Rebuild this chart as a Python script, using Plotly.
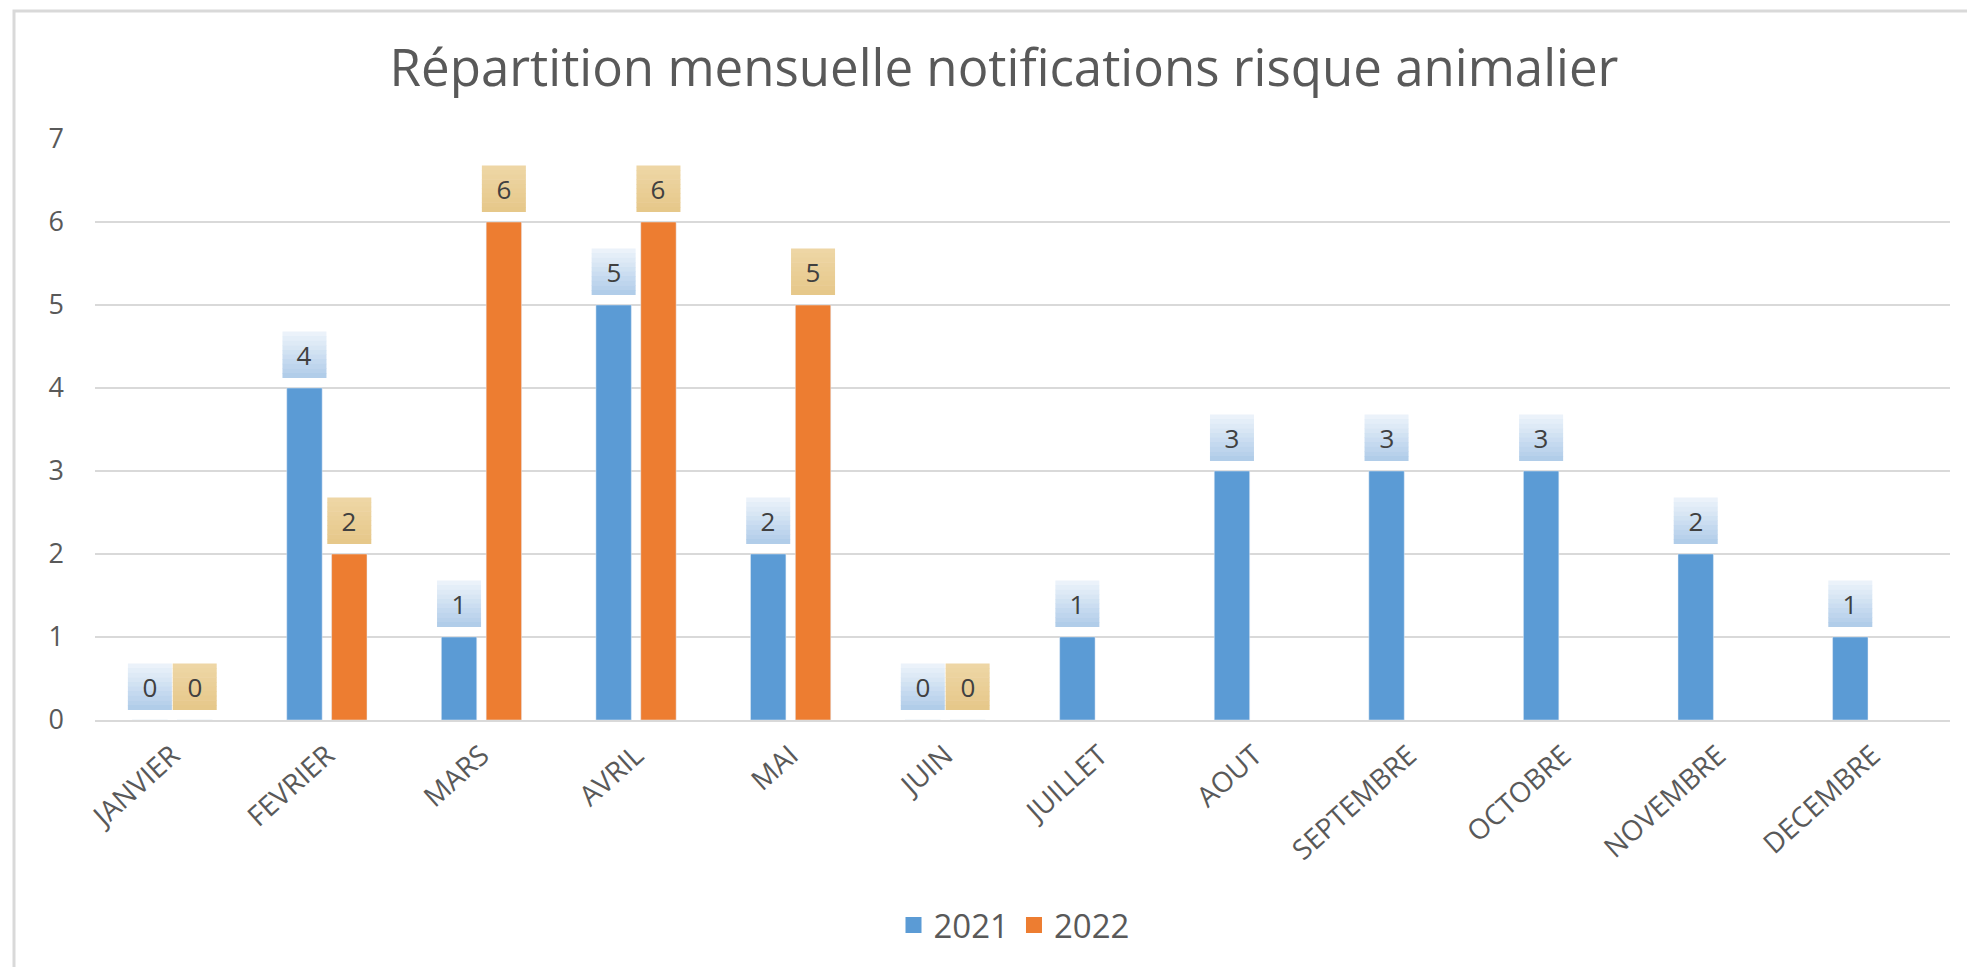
import plotly.graph_objects as go

months = ["JANVIER", "FEVRIER", "MARS", "AVRIL", "MAI", "JUIN", "JUILLET",
          "AOUT", "SEPTEMBRE", "OCTOBRE", "NOVEMBRE", "DECEMBRE"]
v2021 = [0, 4, 1, 5, 2, 0, 1, 3, 3, 3, 2, 1]
v2022 = [0, 2, 6, 6, 5, 0, None, None, None, None, None, None]
series_names = ["2021", "2022"]

BLUE = "#5b9bd5"
ORANGE = "#ed7d31"
TXT = "#595959"
FONT = "Open Sans"

W, H = 1975, 967
# page has an 8px body margin; figure coordinates are page - 8
L, R, T, B = 87, 33, 131, 255

fig = go.Figure()
fig.add_trace(go.Bar(x=months, y=v2021, name=series_names[0], marker_color=BLUE,
                     showlegend=False))
fig.add_trace(go.Bar(x=months, y=v2022, name=series_names[1], marker_color=ORANGE,
                     showlegend=False))
# legend entries with larger square swatches
for nm, col in zip(series_names, [BLUE, ORANGE]):
    fig.add_trace(go.Scatter(x=[None], y=[None], mode="markers", name=nm,
                             marker=dict(symbol="square", size=16, color=col)))

bargap = 0.42
cat_w = (W - L - R) / len(months)
slot = cat_w * (1 - bargap) / 2

BOX_W, BOX_H, GAP = 44, 46, 10


def lerp(c1, c2, t):
    a = [int(c1[i:i + 2], 16) for i in (1, 3, 5)]
    b = [int(c2[i:i + 2], 16) for i in (1, 3, 5)]
    return "rgb(%d,%d,%d)" % tuple(round(a[k] + (b[k] - a[k]) * t) for k in range(3))


NSTRIPE = 10
grads = [("#eef4fb", "#aecbe8"), ("#eed7a6", "#e6c789")]
for vals, shift, (ctop, cbot) in zip([v2021, v2022], [-slot / 2, slot / 2], grads):
    for m, v in zip(months, vals):
        if v is None:
            continue
        for s in range(NSTRIPE):
            t = (s + 0.5) / NSTRIPE
            y_lo = GAP + BOX_H * (1 - (s + 1) / NSTRIPE)
            y_hi = GAP + BOX_H * (1 - s / NSTRIPE)
            fig.add_shape(type="rect", xref="x", yref="y",
                          xsizemode="pixel", ysizemode="pixel",
                          xanchor=m, yanchor=v,
                          x0=shift - BOX_W / 2, x1=shift + BOX_W / 2,
                          y0=y_lo, y1=y_hi + 0.5,
                          line=dict(width=0), fillcolor=lerp(ctop, cbot, t),
                          layer="above")
        fig.add_annotation(x=m, y=v, xref="x", yref="y", text=str(v),
                           showarrow=False, xshift=shift, yshift=GAP,
                           yanchor="bottom", width=BOX_W, height=BOX_H,
                           borderpad=0, borderwidth=0,
                           font=dict(family=FONT, size=26, color="#404040"))

plot_h = H - T - B
plot_w = W - L - R
fig.add_shape(type="rect", xref="paper", yref="paper",
              x0=(6 - L) / plot_w, x1=(W + 10 - L) / plot_w,
              y0=(H - B - (H + 10)) / plot_h, y1=(H - B - 3) / plot_h,
              line=dict(color="#d9d9d9", width=3), fillcolor="rgba(0,0,0,0)", layer="below")

fig.update_layout(
    width=W, height=H,
    margin=dict(l=L, r=R, t=T, b=B),
    paper_bgcolor="white", plot_bgcolor="white",
    barmode="group", bargap=bargap, bargroupgap=0.21,
    title=dict(text="Répartition mensuelle notifications risque animalier",
               x=996 / W, xref="container", xanchor="center",
               y=1 - 60 / H, yref="container", yanchor="middle",
               font=dict(family=FONT, size=51, color=TXT)),
    font=dict(family=FONT, color=TXT),
    legend=dict(orientation="h", x=(1006 - L) / plot_w, xanchor="center", xref="paper",
                y=(H - B - 917) / plot_h, yanchor="middle",
                font=dict(family=FONT, size=33, color=TXT),
                itemwidth=30, traceorder="normal"),
    showlegend=True,
)
fig.update_xaxes(tickangle=-42, tickfont=dict(family=FONT, size=28, color=TXT),
                 showline=True, linecolor="#d9d9d9", linewidth=2, ticks="",
                 showgrid=False, ticklabelstandoff=6)
fig.update_yaxes(range=[0, 7], dtick=1, tickfont=dict(family=FONT, size=27, color=TXT),
                 showgrid=True, gridcolor="#d9d9d9", gridwidth=2, zeroline=False,
                 showline=False, ticks="", ticklabelstandoff=30)

fig.write_html("out.html")
